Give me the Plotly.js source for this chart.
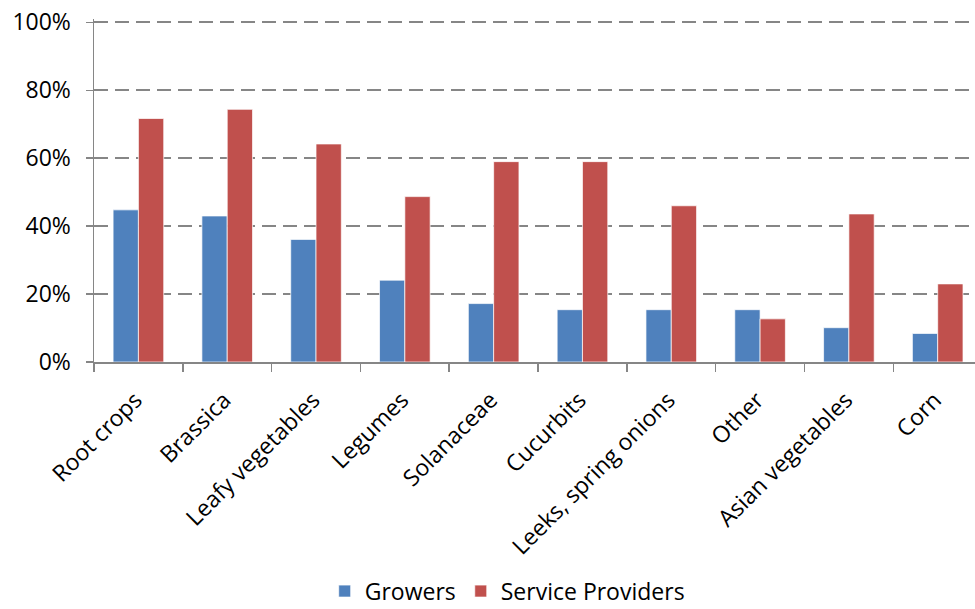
<!DOCTYPE html>
<html>
<head>
<meta charset="utf-8">
<script src="https://cdn.plot.ly/plotly-3.0.1.min.js"></script>
<style>html,body{margin:0;padding:0;background:#fff;}#chart{width:975px;height:609px;}</style>
</head>
<body>
<div id="chart"></div>
<script>
const categories = ["Root crops", "Brassica", "Leafy vegetables", "Legumes", "Solanaceae", "Cucurbits", "Leeks, spring onions", "Other", "Asian vegetables", "Corn"];
const growers = [0.448, 0.430, 0.361, 0.241, 0.172, 0.154, 0.154, 0.154, 0.101, 0.084];
const serviceProviders = [0.717, 0.744, 0.642, 0.487, 0.590, 0.590, 0.460, 0.127, 0.436, 0.230];
const yTickVals = [0, 0.2, 0.4, 0.6, 0.8, 1.0];
const yTickText = ["0%", "20%", "40%", "60%", "80%", "100%"];

const font = {family: "Open Sans, sans-serif", size: 23, color: "#000"};
const data = [
  {type: "bar", name: "Growers", x: categories, y: growers,
   marker: {color: "#4F81BD", line: {color: "rgba(255,255,255,0.7)", width: 1}}},
  {type: "bar", name: "Service Providers", x: categories, y: serviceProviders,
   marker: {color: "#C0504D", line: {color: "rgba(255,255,255,0.7)", width: 1}}}
];
const layout = {
  width: 975, height: 609,
  margin: {l: 94, r: 0, t: 19, b: 247, pad: 0, autoexpand: false},
  paper_bgcolor: "#fff", plot_bgcolor: "#fff",
  font: font,
  barmode: "group", bargap: 0.43, bargroupgap: 0,
  xaxis: {
    type: "category", range: [-0.5, 9.42], automargin: false,
    showline: true, linecolor: "#868686", linewidth: 1.5,
    ticks: "outside", tickson: "boundaries", ticklen: 8, tickcolor: "#868686", tickwidth: 1.5,
    tickangle: -45, tickfont: font, ticklabelstandoff: 14, ticklabelshift: -3,
    showgrid: false, fixedrange: true
  },
  yaxis: {
    range: [0, 1.01], tickvals: yTickVals, ticktext: yTickText, automargin: false,
    showline: true, linecolor: "#868686", linewidth: 1.5,
    ticks: "outside", ticklen: 7, tickcolor: "#868686", tickwidth: 1.5,
    ticklabelstandoff: 10,
    showgrid: true, gridcolor: "#868686", gridwidth: 2, griddash: "14px,7px",
    zeroline: false, tickfont: font, fixedrange: true
  },
  legend: {orientation: "h", x: 0.469, xanchor: "center",
           y: -0.668, yanchor: "middle", font: font, traceorder: "normal"},
  showlegend: true
};
Plotly.newPlot("chart", data, layout, {displayModeBar: false, staticPlot: true});
</script>
</body>
</html>
